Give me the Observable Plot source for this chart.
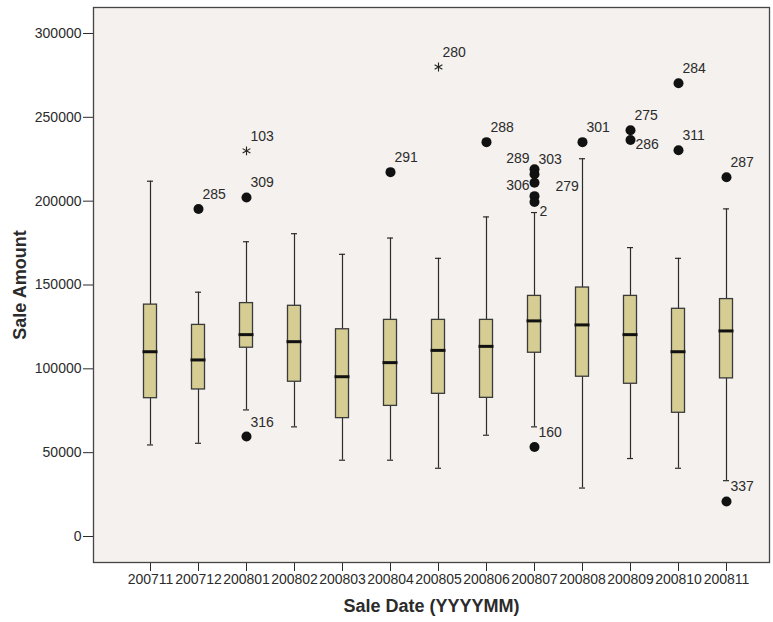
<!DOCTYPE html>
<html>
<head>
<meta charset="utf-8">
<script src="https://cdn.jsdelivr.net/npm/d3@7"></script>
<script src="https://cdn.jsdelivr.net/npm/@observablehq/plot@0.6"></script>
<style>
  html, body { margin: 0; padding: 0; background: #ffffff; }
  #chart svg { display: block; }
</style>
</head>
<body>
<div id="chart"></div>
<script>
// Sale amounts by month: box summaries (whisker ends, quartiles, median)
const months = ["200711", "200712", "200801", "200802", "200803", "200804", "200805",
                "200806", "200807", "200808", "200809", "200810", "200811"];
const whiskerLow  = [54600, 55600, 75500, 65400, 45500, 45500, 40700, 60400, 65400, 28900, 46500, 40700, 33300];
const quartile1   = [82500, 87700, 112600, 92300, 70600, 77900, 85100, 82700, 109600, 95300, 91100, 73800, 94300];
const medians     = [110200, 105300, 120400, 116200, 95300, 103700, 111000, 113400, 128600, 126200, 120400, 110200, 122600];
const quartile3   = [138300, 126200, 139200, 137600, 123600, 129200, 129200, 129200, 143500, 148500, 143500, 135800, 141600];
const whiskerHigh = [211900, 145700, 175800, 180600, 168300, 178000, 165900, 190600, 193200, 225300, 172300, 165900, 195400];

// Outlying cases (circle) and extreme cases (star), labelled by case number
const outlierMonth = ["200712", "200801", "200801", "200801", "200804", "200805", "200806",
                      "200807", "200807", "200807", "200807", "200807", "200807",
                      "200808", "200809", "200809", "200810", "200810", "200811", "200811"];
const outlierValue = [195300, 202200, 59600, 230000, 217300, 280000, 235200,
                      219000, 216000, 211000, 203000, 199500, 53400,
                      235200, 242300, 236500, 270300, 230400, 214300, 20900];
const outlierCase  = ["285", "309", "316", "103", "291", "280", "288",
                      "289", "303", "279", "306", "2", "160",
                      "301", "275", "286", "284", "311", "287", "337"];
const outlierKind  = ["outlier", "outlier", "outlier", "extreme", "outlier", "extreme", "outlier",
                      "outlier", "outlier", "outlier", "outlier", "outlier", "outlier",
                      "outlier", "outlier", "outlier", "outlier", "outlier", "outlier", "outlier"];

const yTicks = [0, 50000, 100000, 150000, 200000, 250000, 300000];

const boxes = months.map((m, i) => ({
  month: m, low: whiskerLow[i], q1: quartile1[i], median: medians[i], q3: quartile3[i], high: whiskerHigh[i]
}));
const cases = outlierMonth.map((m, i) => ({
  month: m, value: outlierValue[i], id: outlierCase[i], kind: outlierKind[i]
}));

// Where each case label sits relative to its symbol (crowded cases are pushed aside)
const labelSide = { "289": "left", "306": "left", "279": "farRight", "286": "right", "2": "below" };
const sideOf = d => labelSide[d.id] || "above";
const labelStyles = {
  above:    { dx: 4,  dy: -10, textAnchor: "start", lineAnchor: "bottom" },
  left:     { dx: -5, dy: -6,  textAnchor: "end",   lineAnchor: "bottom" },
  right:    { dx: 5,  dy: 5,   textAnchor: "start", lineAnchor: "middle" },
  farRight: { dx: 21, dy: 4,   textAnchor: "start", lineAnchor: "middle" },
  below:    { dx: 5,  dy: 10,  textAnchor: "start", lineAnchor: "middle" }
};

const ink = "#2b2b2b";
const font = "'Liberation Sans', Arial, sans-serif";

const labelMarks = Object.entries(labelStyles).map(([side, s]) =>
  Plot.text(cases.filter(d => sideOf(d) === side), {
    x: "month", y: "value", text: "id", fill: ink, fontSize: 14, ...s
  })
);

const chart = Plot.plot({
  width: 773,
  height: 622,
  marginLeft: 93,
  marginRight: 4,
  marginTop: 7,
  marginBottom: 60,
  style: { background: "#ffffff", fontFamily: font, fontSize: "14px", color: ink },
  x: { type: "band", domain: months, range: [126, 750], padding: 0, label: null },
  y: { domain: [-15500, 315500], label: null },
  marks: [
    Plot.frame({ fill: "#f4f1ee", stroke: null }),
    // whiskers and caps
    Plot.ruleX(boxes, { x: "month", y1: "low", y2: "high", stroke: ink, strokeWidth: 1.2 }),
    Plot.tickY(boxes, { x: "month", y: "low", stroke: ink, strokeWidth: 1.2, insetLeft: 21, insetRight: 21 }),
    Plot.tickY(boxes, { x: "month", y: "high", stroke: ink, strokeWidth: 1.2, insetLeft: 21, insetRight: 21 }),
    // interquartile boxes and medians
    Plot.barY(boxes, { x: "month", y1: "q1", y2: "q3", fill: "#d5cd94", stroke: "#3a3a3a", strokeWidth: 1.3,
                       insetLeft: 17.5, insetRight: 17.5 }),
    Plot.tickY(boxes, { x: "month", y: "median", stroke: "#111", strokeWidth: 3, insetLeft: 16.5, insetRight: 16.5 }),
    // outlying and extreme cases
    Plot.dot(cases.filter(d => d.kind === "outlier"), { x: "month", y: "value", r: 5, fill: "#111", stroke: null }),
    Plot.dot(cases.filter(d => d.kind === "extreme"), { x: "month", y: "value", symbol: "asterisk", r: 4.2,
                                                        stroke: "#222", strokeWidth: 1.1 }),
    ...labelMarks,
    // axes
    Plot.axisY({ ticks: yTicks, tickFormat: d => String(d), tickSize: 10, tickPadding: 2,
                 fontSize: 14, stroke: ink, fill: ink, label: null }),
    Plot.axisX({ tickSize: 9, tickPadding: 3, fontSize: 14, stroke: ink, fill: ink, label: null,
                 style: { letterSpacing: "0.2px" } }),
    Plot.frame({ stroke: "#444", strokeWidth: 1.3 }),
    // axis titles
    Plot.text(["Sale Amount"], { frameAnchor: "left", dx: -73, rotate: -90, fontSize: 18,
                                 textAnchor: "middle", lineAnchor: "middle",
                                 fontWeight: "bold", fill: ink, text: d => d }),
    Plot.text(["Sale Date (YYYYMM)"], { frameAnchor: "bottom", dy: 44, fontSize: 18,
                                        textAnchor: "middle", lineAnchor: "middle",
                                        fontWeight: "bold", fill: ink, text: d => d })
  ]
});

document.getElementById("chart").appendChild(chart);
</script>
</body>
</html>
